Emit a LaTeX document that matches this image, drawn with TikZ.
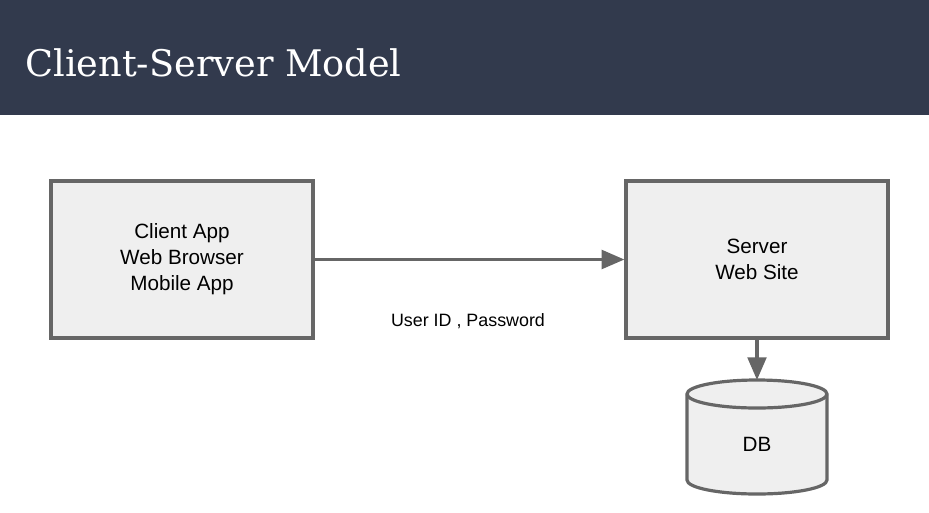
\documentclass[tikz,border=0pt]{standalone}
\usepackage{fontspec}
\setmainfont{Liberation Sans}
\newfontfamily\titlefont{DejaVu Serif}
\usetikzlibrary{arrows.meta}
\definecolor{hdr}{RGB}{50,58,77}
\definecolor{edge}{RGB}{102,102,102}
\definecolor{boxfill}{RGB}{239,239,239}
\begin{document}
\begin{tikzpicture}[x=0.75pt,y=-0.75pt,
  box/.style={draw=edge,fill=boxfill,line width=2.4pt,minimum width=262*0.75pt,minimum height=157*0.75pt,inner sep=0pt,align=center,font=\fontsize{15.5}{19.5}\selectfont},
  conn/.style={draw=edge,line width=2.4pt,-{Triangle[length=17pt,width=14pt]}},
  lbl/.style={font=\fontsize{13.4}{15}\selectfont}]
\useasboundingbox (0,0) rectangle (929,512);
\fill[white] (0,0) rectangle (929,512);
\fill[hdr] (0,0) rectangle (929,115);
\node[anchor=west,text=white,font=\titlefont\fontsize{27.5}{30}\selectfont,inner sep=0pt] (title) at (25,63) {Client-Server Model};
\node[box] (client) at (182,259.5) {Client App\\Web Browser\\Mobile App};
\node[box] (server) at (757,259.5) {Server\\Web Site};
% DB cylinder
\filldraw[draw=edge,fill=boxfill,line width=2.4pt] (687,394) -- (687,480) arc[start angle=180,end angle=0,x radius=70,y radius=14] -- (827,394) arc[start angle=0,end angle=-180,x radius=70,y radius=14] -- cycle;
\draw[edge,line width=2.4pt] (687,394) arc[start angle=180,end angle=0,x radius=70,y radius=14];
\coordinate (dbtop) at (757,380);
\node[font=\fontsize{15.5}{18}\selectfont] (db) at (757,444) {DB};
\draw[conn] (client.east) -- (server.west);
\draw[conn] (server.south) -- (dbtop);
\node[lbl] (cred) at (468,321) {User ID , Password};
\end{tikzpicture}
\end{document}
